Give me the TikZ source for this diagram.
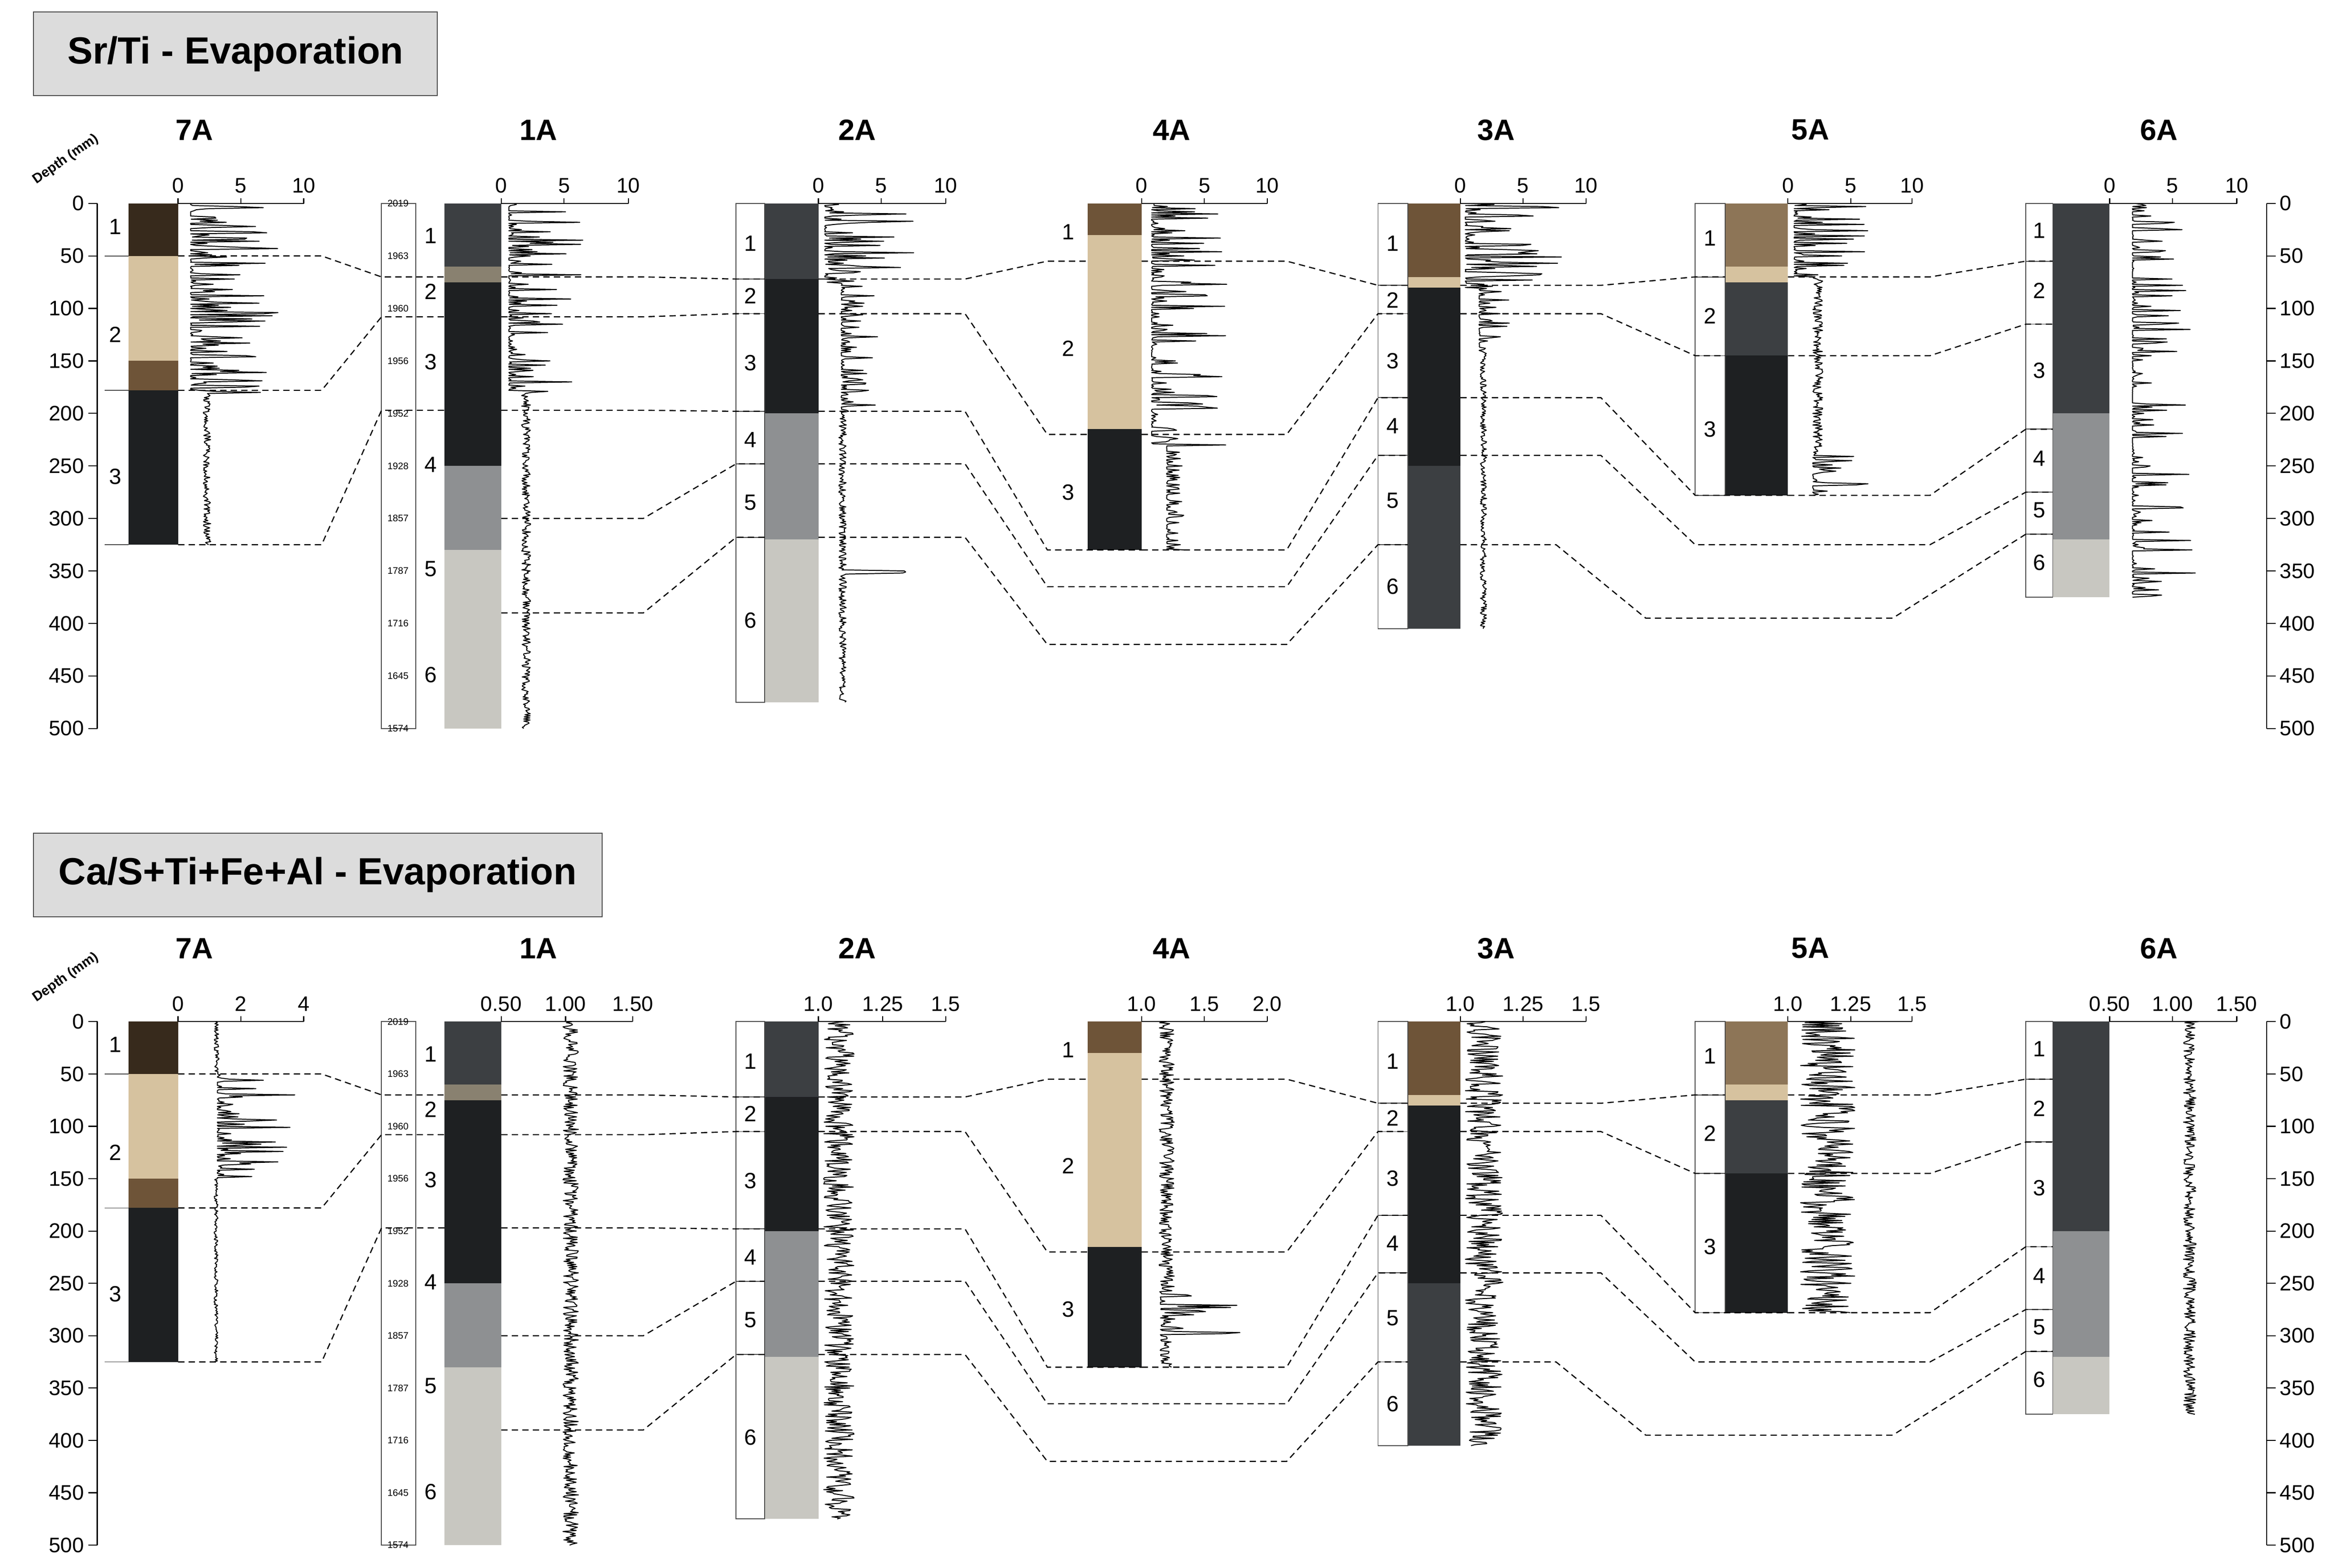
\documentclass[tikz,border=0pt]{standalone}
\usepackage{fontspec}
\setmainfont{Liberation Sans}
\usetikzlibrary{positioning}
\definecolor{coreblack}{HTML}{1E2022}
\definecolor{coredark}{HTML}{3C3F42}
\definecolor{coregrey}{HTML}{8E9092}
\definecolor{corelight}{HTML}{C8C7C1}
\definecolor{corebeige}{HTML}{D6C29F}
\definecolor{corebrown}{HTML}{6E5438}
\definecolor{boxgrey}{HTML}{DCDCDC}

\tikzset{
  corr/.style={line width=1.1pt, dash pattern=on 6pt off 4pt},
  sig/.style={line width=0.9pt, line join=round},
  thinline/.style={line width=0.8pt, draw=black!70},
  tick/.style={font=\fontsize{20}{24}\selectfont, inner sep=1pt},
  unit/.style={font=\fontsize{21}{25}\selectfont, inner sep=0pt},
  date/.style={font=\fontsize{9}{10}\selectfont, inner sep=0pt},
  corename/.style={font=\fontsize{28}{32}\selectfont\bfseries},
  title/.style={draw=black!70, fill=boxgrey, line width=1pt, minimum height=2.8cm,
    font=\fontsize{36}{42}\selectfont\bfseries, anchor=west, inner xsep=0.6cm}
}

% photo segments d1/d2/colour
\newcommand\photo[3]{\foreach \da/\db/\col in {#3}{\fill[\col] (#1,\da) rectangle (#2,\db);}}
% bracket box, boundaries, unit labels d/txt
\newcommand\bracket[5]{%
  \draw[thinline] (#1,0) rectangle (#2,#3);
  \foreach \bd in {#4}{\draw[thinline] (#1,\bd) -- (#2,\bd);}
  \foreach \dep/\txt in {#5}{\node[unit] at ({(#1+#2)/2},\dep) {\txt};}}
% top value axis x/txt
\newcommand\valaxis[3]{%
  \draw[line width=1pt] (#1,0) -- (#2,0);
  \foreach \x/\txt in {#3}{\draw[line width=1pt] (\x,0) -- (\x,-5); \node[tick] at (\x,-17) {\txt};}}
% signal: x0, px per unit, vmin, start, segments d1/d2/base/amp/pow
\newcommand\sig[5]{%
  \begin{scope}[shift={(#1,0)}, xscale=#2]
    \draw[sig] ({#4-#3},0) \foreach \da/\db/\vb/\va/\vp in {#5}{
      \foreach \dep in {\da,...,\db}{ -- ({\vb-#3+\va*pow(rnd,\vp)},\dep) } };
  \end{scope}}
\newcommand\lnk[6]{\draw[corr] (#1,#5) -- (#2,#5) -- (#3,#6) -- (#4,#6);}

\newcommand\common{%
  % depth axes
  \draw[line width=1pt] (65,0) -- (65,500);
  \draw[line width=1pt] (1515,0) -- (1515,500);
  \foreach \dep in {0,50,...,500}{
    \draw[line width=1pt] (59,\dep) -- (65,\dep);
    \node[tick, anchor=east] at (57,\dep) {\dep};
    \draw[line width=1pt] (1515,\dep) -- (1521,\dep);
    \node[tick, anchor=west] at (1523,\dep) {\dep};}
  \node[font=\fontsize{13}{15}\selectfont\bfseries, rotate=35] at (44,-42) {Depth (mm)};
  % core names
  \node[corename] (n7A) at (130,-70) {7A};
  \node[corename] (n1A) at (360,-70) {1A};
  \node[corename] (n2A) at (573,-70) {2A};
  \node[corename] (n4A) at (783,-70) {4A};
  \node[corename] (n3A) at (1000,-70) {3A};
  \node[corename] (n5A) at (1210,-70) {5A};
  \node[corename] (n6A) at (1443,-70) {6A};
  % photos
  \photo{86}{119}{0/50/corebrown!50!black, 50/150/corebeige, 150/178/corebrown, 178/325/coreblack}
  \photo{297}{335}{0/60/coredark, 60/75/corebeige!50!coredark, 75/250/coreblack, 250/330/coregrey, 330/500/corelight}
  \photo{511}{547}{0/72/coredark, 72/200/coreblack, 200/320/coregrey, 320/475/corelight}
  \photo{727}{763}{0/30/corebrown, 30/215/corebeige, 215/330/coreblack}
  \photo{941}{976}{0/70/corebrown, 70/80/corebeige, 80/250/coreblack, 250/405/coredark}
  \photo{1153}{1195}{0/60/corebrown!70!corebeige, 60/75/corebeige, 75/145/coredark, 145/278/coreblack}
  \photo{1372}{1410}{0/200/coredark, 200/320/coregrey, 320/375/corelight}
  % units
  \foreach \bd in {50,178,325}{\draw[thinline] (70,\bd) -- (86,\bd);}
  \foreach \dep/\txt in {22/1,125/2,260/3}{\node[unit] at (77,\dep) {\txt};}
  \draw[thinline] (255,0) rectangle (278,500);
  \foreach \dep/\yr in {0/2019,50/1963,100/1960,150/1956,200/1952,250/1928,300/1857,350/1787,400/1716,450/1645,500/1574}
    {\node[date] at (266,\dep) {\yr};}
  \foreach \dep/\txt in {31/1,84/2,151/3,249/4,348/5,449/6}{\node[unit] at (288,\dep) {\txt};}
  \bracket{492}{511}{475}{72,105,198,248,318}{38/1,88/2,152/3,225/4,285/5,397/6}
  \foreach \dep/\txt in {27/1,138/2,275/3}{\node[unit] at (714,\dep) {\txt};}
  \bracket{921}{941}{405}{78,105,185,240,325}{38/1,92/2,150/3,212/4,283/5,365/6}
  \bracket{1133}{1153}{278}{70,145}{33/1,107/2,215/3}
  \bracket{1354}{1372}{375}{55,115,215,275,315}{26/1,83/2,159/3,243/4,292/5,342/6}
  % correlations
  \foreach \da/\db in {50/70,178/108,325/197}{\lnk{119}{215}{255}{297}{\da}{\db}}
  \foreach \da/\db in {70/72,108/105,197/198,300/248,390/318}{\lnk{335}{430}{492}{511}{\da}{\db}}
  \foreach \da/\db in {72/55,105/220}{\lnk{547}{645}{700}{727}{\da}{\db}}
  \lnk{547}{645}{700}{763}{198}{330}
  \draw[corr] (547,248) -- (645,248) -- (700,365) -- (860,365) -- (921,240) -- (941,240);
  \draw[corr] (547,318) -- (645,318) -- (700,420) -- (860,420) -- (921,325) -- (941,325);
  \foreach \da/\db in {55/78,220/105,330/185}{\lnk{763}{860}{921}{941}{\da}{\db}}
  \foreach \da/\db in {78/70,105/145}{\lnk{976}{1070}{1133}{1153}{\da}{\db}}
  \lnk{976}{1070}{1133}{1195}{185}{278}
  \draw[corr] (976,240) -- (1070,240) -- (1133,325) -- (1290,325) -- (1354,275) -- (1372,275);
  \draw[corr] (976,325) -- (1040,325) -- (1100,395) -- (1265,395) -- (1354,315) -- (1372,315);
  \foreach \da/\db in {70/55,145/115,278/215}{\lnk{1195}{1290}{1354}{1372}{\da}{\db}}
}

\begin{document}
\begin{tikzpicture}[x=0.05cm, y=-0.05cm]
\useasboundingbox (0,0) rectangle (1560,1048);
\pgfmathsetseed{7}

% Sr/Ti panel
\node[title, minimum width=13.5cm] (t1) at (22,36) {Sr/Ti - Evaporation};
\begin{scope}[shift={(0,136)}, yscale=0.702]
  \common
  \valaxis{119}{203}{119/0,161/5,203/10}
  \valaxis{335}{420}{335/0,377/5,420/10}
  \valaxis{547}{632}{547/0,589/5,632/10}
  \valaxis{763}{847}{763/0,805/5,847/10}
  \valaxis{976}{1060}{976/0,1018/5,1060/10}
  \valaxis{1195}{1278}{1195/0,1237/5,1278/10}
  \valaxis{1410}{1495}{1410/0,1452/5,1495/10}
  \sig{119}{8.4}{0}{1}{1/180/1/7/5, 181/325/2/0.6/1}
  \sig{335}{8.5}{0}{1}{1/180/0.6/6/7, 181/500/1.6/0.7/1}
  \sig{547}{8.5}{0}{1}{1/75/0.5/7/4, 76/200/1.8/3/6, 201/349/1.6/0.6/1, 350/352/6/1/1, 353/475/1.6/0.6/1}
  \sig{763}{8.4}{0}{1}{1/230/0.8/6/5, 231/330/2/1.5/5}
  \sig{976}{8.4}{0}{1}{1/80/0.4/8/4, 81/140/1.5/2.5/6, 141/405/1.6/0.5/1}
  \sig{1195}{8.3}{0}{1}{1/70/0.5/6/5, 71/240/2/0.8/1, 241/278/2/5/5}
  \sig{1410}{8.5}{0}{2}{1/375/1.8/5/9}
\end{scope}

% Ca/S+Ti+Fe+Al panel
\node[title, minimum width=19cm] (t2) at (22,585) {Ca/S+Ti+Fe+Al - Evaporation};
\begin{scope}[shift={(0,683)}, yscale=0.70]
  \common
  \valaxis{119}{203}{119/0,161/2,203/4}
  \valaxis{335}{423}{335/0.50,378/1.00,423/1.50}
  \valaxis{547}{632}{547/1.0,590/1.25,632/1.5}
  \valaxis{763}{847}{763/1.0,805/1.5,847/2.0}
  \valaxis{976}{1060}{976/1.0,1018/1.25,1060/1.5}
  \valaxis{1195}{1278}{1195/1.0,1237/1.25,1278/1.5}
  \valaxis{1410}{1495}{1410/0.50,1452/1.00,1495/1.50}
  \sig{119}{21}{0}{1.2}{1/50/1.15/0.15/1, 51/150/1.25/2.5/6, 151/325/1.15/0.12/1}
  \sig{335}{86}{0.5}{1.05}{1/500/0.98/0.12/1}
  \sig{547}{170}{1}{1.1}{1/475/1.02/0.12/1}
  \sig{763}{84}{1}{1.2}{1/260/1.14/0.12/1, 261/300/1.15/0.8/5, 301/330/1.14/0.1/1}
  \sig{976}{168}{1}{1.1}{1/405/1.02/0.15/1}
  \sig{1195}{166}{1}{1.2}{1/278/1.05/0.22/1}
  \sig{1410}{85}{0.5}{1.2}{1/375/1.08/0.1/1}
\end{scope}
\end{tikzpicture}
\end{document}
